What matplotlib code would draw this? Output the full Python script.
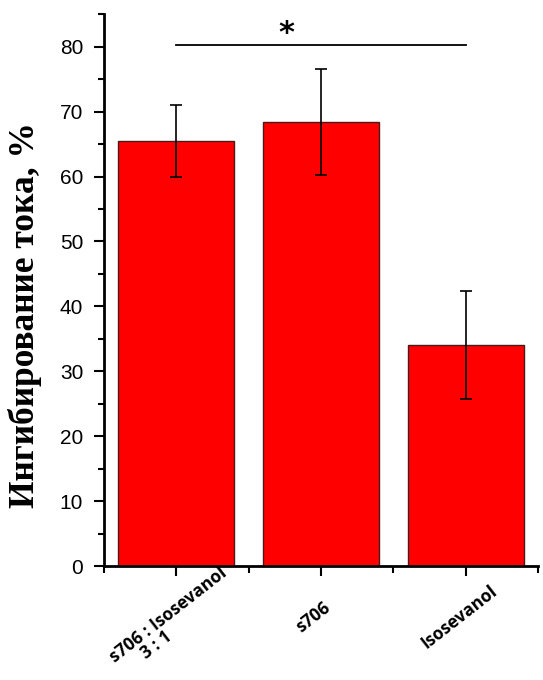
import matplotlib
matplotlib.use("Agg")
import matplotlib.pyplot as plt
import matplotlib.transforms as mtransforms
from matplotlib.ticker import MultipleLocator, FixedLocator

categories = ["s706 : Isosevanol\n      3 : 1", "s706", "Isosevanol"]
values = [65.5, 68.4, 34.1]
errors = [5.5, 8.1, 8.3]
sig_y = 80.2

# per-label pixel offsets (layout only)
label_dx = [-3, -8, -6]
label_dy = [-4, 0, 0]

fig = plt.figure(figsize=(5.43, 6.8), dpi=100)
ax = fig.add_axes([0.1915, 0.1676, 0.7993, 0.8114])

x = list(range(len(categories)))
ax.bar(x, values, width=0.8, color="#ff0000", edgecolor="#4a1a1a", linewidth=1.0, zorder=2)
ax.errorbar(x, values, yerr=errors, fmt="none", ecolor="black", elinewidth=1.2,
            capsize=4.5, capthick=1.2, zorder=3)

ax.set_xlim(-0.5, 2.5)
ax.set_ylim(0, 85)
for s in ["top", "right"]:
    ax.spines[s].set_visible(False)
for s in ["left", "bottom"]:
    ax.spines[s].set_linewidth(2.0)

ax.set_yticks([0, 10, 20, 30, 40, 50, 60, 70, 80])
ax.yaxis.set_minor_locator(MultipleLocator(5))
ax.tick_params(axis="y", which="major", direction="out", length=7, width=1.5, labelsize=15, pad=8)
ax.tick_params(axis="y", which="minor", direction="out", length=4, width=1.5)
for lab in ax.get_yticklabels():
    lab.set_family("Liberation Sans")

ax.set_xticks(x)
ax.xaxis.set_minor_locator(FixedLocator([-0.5, 0.5, 1.5, 2.5]))
ax.tick_params(axis="x", which="major", direction="out", length=7, width=1.5, pad=30)
ax.tick_params(axis="x", which="minor", direction="out", length=5, width=1.5)
ax.set_xticklabels(categories, rotation=38, ha="center", va="center", rotation_mode="anchor",
                   fontsize=12.5, fontweight="bold", family="Open Sans", linespacing=0.95,
                   multialignment="left")
for lab, dx, dy in zip(ax.get_xticklabels(), label_dx, label_dy):
    off = mtransforms.ScaledTranslation(dx / 100, dy / 100, fig.dpi_scale_trans)
    lab.set_transform(lab.get_transform() + off)

fig.text(25 / 543, 1 - 315 / 680, "Ингибирование тока, %", rotation=90, ha="center", va="center",
         fontsize=25.5, fontweight="bold", family="Liberation Serif")

ax.plot([0, 2], [sig_y, sig_y], color="black", linewidth=1.3, clip_on=False, zorder=4)
ax.text(0.76, 80.8, "*", fontsize=22, fontweight="bold", ha="center", va="baseline",
        family="DejaVu Sans", clip_on=False)

fig.savefig("out.png", dpi=100)
